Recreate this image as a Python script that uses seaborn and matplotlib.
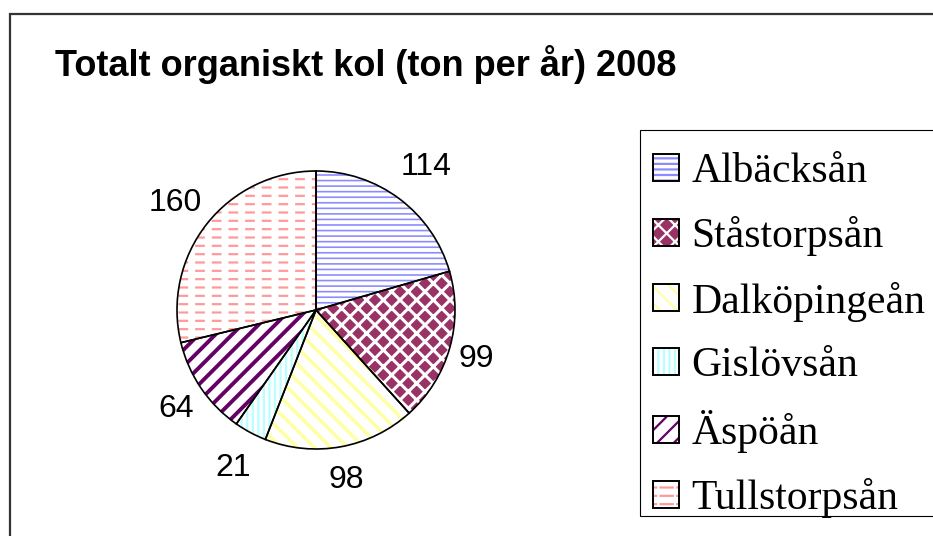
import matplotlib
matplotlib.use("Agg")
import numpy as np
import matplotlib.pyplot as plt
from matplotlib.patches import Patch, Rectangle
from matplotlib.legend_handler import HandlerTuple
import seaborn as sns

sns.set_style("white")
plt.rcParams["font.family"] = ["Liberation Sans", "DejaVu Sans"]
plt.rcParams["text.color"] = "black"
plt.rcParams["hatch.linewidth"] = 1.6

# data
rivers = ["Albäcksån", "Ståstorpsån", "Dalköpingeån", "Gislövsån", "Äspöån", "Tullstorpsån"]
carbon = [114, 99, 98, 21, 64, 160]
title = "Totalt organiskt kol (ton per år) 2008"

# excel-like pattern fills: background, pattern colour, hatch, hatch width
faces = ["white", "#993366", "white", "white", "white", "white"]
hatch_cols = ["#8C8CFF", "white", "#FFFFA8", "#B8FFFF", "#660066", "#FF9A9A"]
hatches = ["---", "xx", "\\\\", "|||", "//", "--"]
hatch_lw = [1.2, 2.2, 2.6, 1.6, 2.8, 1.6]
# white vertical overlay to break the pink lines into dashes
dash_breaks = [None, None, None, None, None, "|"]
# how far out each value label sits (in pie radii)
label_dist = [1.32, 1.20, 1.22, 1.26, 1.22, 1.29]

W, H = 933, 536
fig = plt.figure(figsize=(W / 100, H / 100), dpi=100)

# outer chart frame (only left/top visible in the crop)
fig.patches.append(Rectangle((10 / W, -0.1), 1.2, (H - 14) / H + 0.1,
                             transform=fig.transFigure, fill=False,
                             edgecolor="#333333", linewidth=1.6))

fig.text(55 / W, 1 - 76 / H, title, fontsize=26, fontweight="bold",
         ha="left", va="baseline")

cx, cy, r = 316, 310, 139
ax = fig.add_axes([(cx - r) / W, (H - cy - r) / H, 2 * r / W, 2 * r / H])

total = sum(carbon)
wedges, _, autotexts = ax.pie(
    carbon, startangle=90, counterclock=False, colors=faces,
    autopct=lambda p: f"{p * total / 100:.0f}",
    wedgeprops=dict(linewidth=0),
    textprops=dict(fontsize=23, color="black"))
for w, hc, h, lw in zip(wedges, hatch_cols, hatches, hatch_lw):
    w.set_edgecolor(hc)
    w.set_hatch(h)
    if hasattr(w, "set_hatch_linewidth"):
        w.set_hatch_linewidth(lw)
for w, t, d in zip(wedges, autotexts, label_dist):
    mid = np.deg2rad((w.theta1 + w.theta2) / 2)
    t.set_position((d * np.cos(mid), d * np.sin(mid)))
    t.set_ha("center")
    t.set_va("center_baseline")

breaks, _ = ax.pie(carbon, startangle=90, counterclock=False,
                   wedgeprops=dict(fill=False, linewidth=0))
for w, b in zip(breaks, dash_breaks):
    if b is None:
        w.set_visible(False)
        continue
    w.set_edgecolor("white")
    w.set_hatch(b)
    if hasattr(w, "set_hatch_linewidth"):
        w.set_hatch_linewidth(5)

outline, _ = ax.pie(carbon, startangle=90, counterclock=False,
                    wedgeprops=dict(fill=False, edgecolor="black", linewidth=1.2))
ax.set_xlim(-1, 1)
ax.set_ylim(-1, 1)

handles = []
for fc, hc, h, lw, b in zip(faces, hatch_cols, hatches, hatch_lw, dash_breaks):
    p = Patch(facecolor=fc, edgecolor=hc, hatch=h, linewidth=0)
    if hasattr(p, "set_hatch_linewidth"):
        p.set_hatch_linewidth(lw)
    parts = [p]
    if b is not None:
        q = Patch(fill=False, edgecolor="white", hatch=b, linewidth=0)
        if hasattr(q, "set_hatch_linewidth"):
            q.set_hatch_linewidth(5)
        parts.append(q)
    parts.append(Patch(fill=False, edgecolor="black", linewidth=1.4))
    handles.append(tuple(parts))

# legend box drawn separately: it runs past the right edge of the crop
fig.patches.append(Rectangle((640 / W, 1 - 516 / H), 0.5, (516 - 130) / H,
                             transform=fig.transFigure, facecolor="white",
                             edgecolor="black", linewidth=0.8))
leg = fig.legend(handles, rivers, loc="upper left",
                 bbox_to_anchor=(653 / W, 1 - 153 / H),
                 handler_map={tuple: HandlerTuple(ndivide=1)},
                 prop={"family": "Liberation Serif", "size": 30},
                 handlelength=0.62, handleheight=0.62, handletextpad=0.3,
                 labelspacing=0.6, borderpad=0, borderaxespad=0,
                 frameon=False)
for t in leg.get_texts():
    t.set_color("black")

fig.savefig("out.png", dpi=100)
